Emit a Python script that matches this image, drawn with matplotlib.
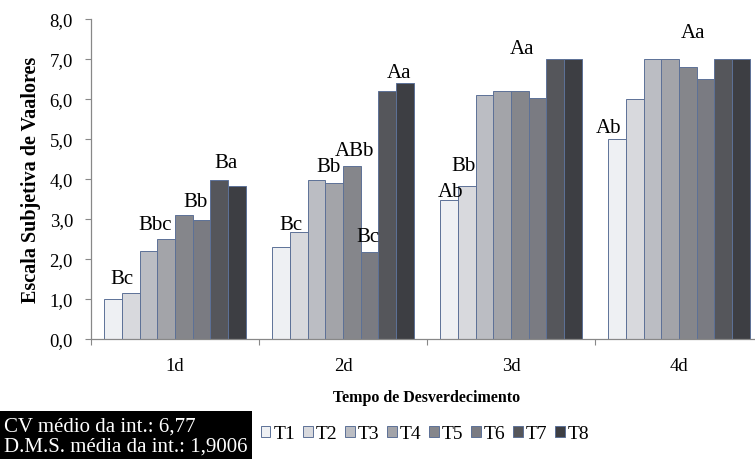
import numpy as np
import matplotlib.pyplot as plt
from matplotlib.patches import Rectangle, Patch

plt.rcParams['font.family'] = ['Liberation Serif', 'DejaVu Serif']

dias = ['1d', '2d', '3d', '4d']
tratamentos = ['T1', 'T2', 'T3', 'T4', 'T5', 'T6', 'T7', 'T8']

# notas medias por tratamento (1d, 2d, 3d, 4d)
T1 = [1.00, 2.31, 3.48, 5.00]
T2 = [1.15, 2.67, 3.83, 6.00]
T3 = [2.20, 3.98, 6.10, 7.00]
T4 = [2.50, 3.90, 6.20, 7.00]
T5 = [3.11, 4.33, 6.20, 6.80]
T6 = [2.98, 2.17, 6.02, 6.50]
T7 = [3.98, 6.19, 7.00, 7.00]
T8 = [3.83, 6.39, 7.00, 7.00]
series = [T1, T2, T3, T4, T5, T6, T7, T8]

# letras do teste de medias: (dia, tratamento de referencia, texto)
letras = [
    (0, 1, 'Bc'), (0, 3, 'Bbc'), (0, 4, 'Bb'), (0, 6, 'Ba'),
    (1, 1, 'Bc'), (1, 2, 'Bb'), (1, 4, 'ABb'), (1, 5, 'Bc'), (1, 7, 'Aa'),
    (2, 0, 'Ab'), (2, 1, 'Bb'), (2, 6, 'Aa'),
    (3, 0, 'Ab'), (3, 3, 'Aa'),
]
# deslocamento das letras (largura de barra, pixels)
desloc = [(-0.5, 10), (-0.65, 10), (0.64, 9), (0.4, 13),
          (-0.43, 3), (0.65, 9), (0.15, 11), (-0.1, 11), (-0.3, 6),
          (0.05, 4), (-0.2, 16), (-1.85, 6),
          (-0.47, 7), (1.32, 22)]

cv_txt = 'CV médio da int.: 6,77'
dms_txt = 'D.M.S. média da int.: 1,9006'

cores = ['#eef0f3', '#d8d9dd', '#bbbdc3', '#a3a4a9',
         '#85868b', '#7a7b82', '#55565b', '#3d3e43']
borda = '#5d7197'

fig = plt.figure(figsize=(7.55, 4.6), dpi=100)
ax = fig.add_axes([91 / 755, 120 / 460, 672 / 755, 320 / 460])

x = np.arange(len(dias))
w = 0.105
for i, (vals, c) in enumerate(zip(series, cores)):
    ax.bar(x + (i - 3.5) * w, vals, w, color=c, edgecolor=borda,
           linewidth=0.7, label=tratamentos[i])

for (g, b, txt), (dx, dy) in zip(letras, desloc):
    ax.annotate(txt, (x[g] + (b - 3.5 + dx) * w, series[b][g]),
                xytext=(0, dy), textcoords='offset pixels',
                ha='center', va='baseline', fontsize=15)

ax.set_ylim(0, 8)
ax.set_xlim(-0.5, 3.5)
yt = np.arange(0, 8.5, 1.0)
ax.set_yticks(yt)
ax.set_yticklabels([f'{v:.1f}'.replace('.', ',') for v in yt], fontsize=13.5)
ax.set_xticks(np.arange(-0.5, 4, 1.0))
ax.set_xticklabels([])
ax.set_xticks(x, minor=True)
ax.set_xticklabels(dias, minor=True, fontsize=13.5)
ax.tick_params(axis='x', which='minor', length=0, pad=13)
ax.tick_params(axis='both', which='major', length=4, color='#888888', width=0.8)
ax.tick_params(axis='y', pad=9)
for s in ['top', 'right']:
    ax.spines[s].set_visible(False)
for s in ['left', 'bottom']:
    ax.spines[s].set_color('#888888')
    ax.spines[s].set_linewidth(0.9)

ax.set_ylabel('Escala Subjetiva de Vaalores', fontsize=14.5, fontweight='bold', labelpad=6)
ax.set_xlabel('Tempo de Desverdecimento', fontsize=11.5, fontweight='bold', labelpad=11)

handles = [Patch(facecolor=c, edgecolor=borda, linewidth=0.7) for c in cores]
fig.legend(handles, tratamentos, loc='center', bbox_to_anchor=(425 / 755, 1 - 435 / 460),
           ncol=8, frameon=False, fontsize=14, handlelength=0.5, handleheight=0.5,
           handletextpad=0.15, columnspacing=0.4)

fig.patches.append(Rectangle((0, 0), 252 / 755, 48 / 460, transform=fig.transFigure,
                             facecolor='black', edgecolor='none'))
fig.text(4 / 755, 1 - 427 / 460, cv_txt, color='white', fontsize=15, va='center')
fig.text(4 / 755, 1 - 447 / 460, dms_txt, color='white', fontsize=15, va='center')

fig.savefig('out.png', dpi=100)
